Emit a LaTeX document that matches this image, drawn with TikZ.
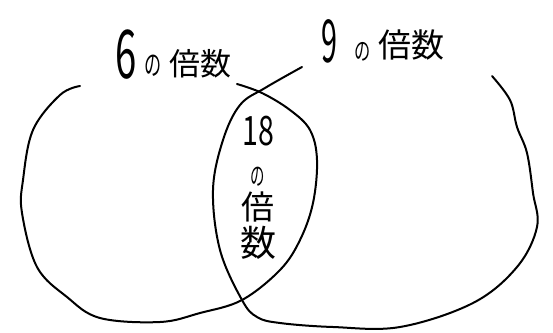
\documentclass[tikz,border=0pt]{standalone}
\usepackage{fontspec}
\newfontfamily\jp{Noto Sans CJK JP}
\tikzset{
  pen/.style={line width=2pt, line cap=round, line join=round},
  hand/.style={inner sep=0pt, outer sep=0pt, font=\jp}
}
\begin{document}
\begin{tikzpicture}[x=1pt,y=-1pt]
\useasboundingbox[fill=white] (0,0) rectangle (553,332);
% left set (multiples of 6)
\draw[pen] plot[smooth, tension=0.6] coordinates {
 (80,86) (60,95) (33,130) (23,180) (22,213) (37,267) (67,297) (100,318)
 (160,322) (200,313) (242,300) (280,270) (300,240) (313,203) (317,160)
 (310,130) (290,110) (262,93) (237,84)};
% right set (multiples of 9)
\draw[pen] plot[smooth, tension=0.6] coordinates {
 (302,67) (265,88) (240,105) (223,140) (213,190) (220,250) (242,300)
 (257,317) (280,323) (333,327) (400,327) (473,303) (517,267) (537,227)
 (533,193) (527,153) (517,127) (510,100) (492,76)};
% labels
\node[hand, anchor=base west] (six) at (115,75)
 {\raisebox{-3pt}{\scalebox{1.2}[2.1]{\fontsize{32}{32}\selectfont 6}}\hspace{8pt}\scalebox{0.9}[1.5]{\fontsize{19}{19}\selectfont の}\hspace{8pt}{\fontsize{31}{31}\selectfont 倍数}};
\node[hand, anchor=base west] (nine) at (321,60)
 {\raisebox{-2pt}{\scalebox{0.9}[1.85]{\fontsize{32}{32}\selectfont 9}}\hspace{18pt}\scalebox{0.9}[1.4]{\fontsize{18}{18}\selectfont の}\hspace{7pt}\raisebox{3pt}{\fontsize{33}{33}\selectfont 倍数}};
\node[hand, align=center] (both) at (258,188)
 {\scalebox{0.95}[1.35]{\fontsize{30}{30}\selectfont 18}\\[20pt]
  \scalebox{0.9}[1.6]{\fontsize{16}{16}\selectfont の}\\[5pt]
  {\fontsize{33}{33}\selectfont 倍}\\[3pt]
  {\fontsize{36}{36}\selectfont 数}};
\end{tikzpicture}
\end{document}
